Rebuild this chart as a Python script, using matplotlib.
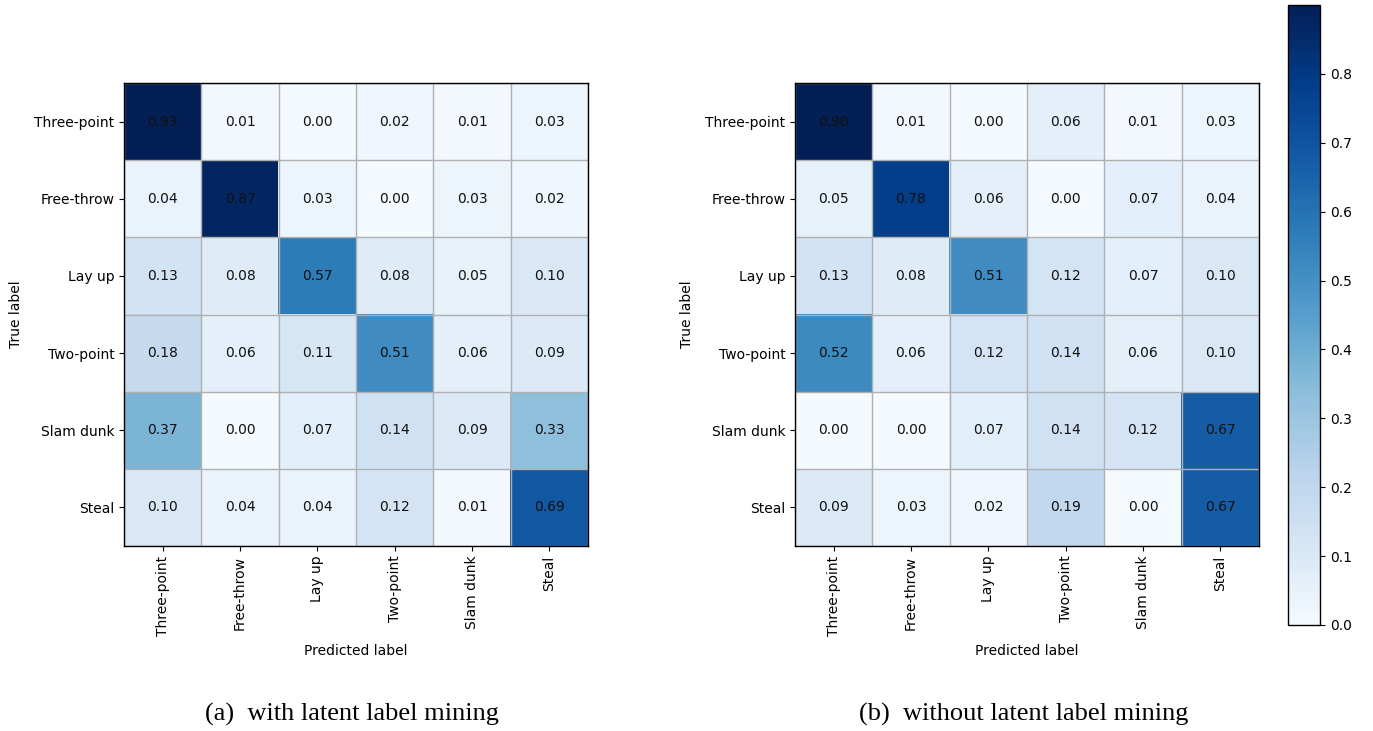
import numpy as np
import matplotlib
matplotlib.use("Agg")
import matplotlib.pyplot as plt
from matplotlib.colors import ListedColormap

classes = ["Three-point", "Free-throw", "Lay up", "Two-point", "Slam dunk", "Steal"]

cm_with = [
    [0.93, 0.01, 0.00, 0.02, 0.01, 0.03],
    [0.04, 0.87, 0.03, 0.00, 0.03, 0.02],
    [0.13, 0.08, 0.57, 0.08, 0.05, 0.10],
    [0.18, 0.06, 0.11, 0.51, 0.06, 0.09],
    [0.37, 0.00, 0.07, 0.14, 0.09, 0.33],
    [0.10, 0.04, 0.04, 0.12, 0.01, 0.69],
]

cm_without = [
    [0.90, 0.01, 0.00, 0.06, 0.01, 0.03],
    [0.05, 0.78, 0.06, 0.00, 0.07, 0.04],
    [0.13, 0.08, 0.51, 0.12, 0.07, 0.10],
    [0.52, 0.06, 0.12, 0.14, 0.06, 0.10],
    [0.00, 0.00, 0.07, 0.14, 0.12, 0.67],
    [0.09, 0.03, 0.02, 0.19, 0.00, 0.67],
]

captions = ["(a)  with latent label mining", "(b)  without latent label mining"]

# Slightly deepened "Blues" palette
base = plt.get_cmap("Blues")(np.linspace(0, 1, 256))
base[:, :3] = base[:, :3] ** 1.25
blues_deep = ListedColormap(base, name="blues_deep")

fig = plt.figure(figsize=(13.73, 7.31), dpi=100)
W, H = 1373, 731


def px_axes(x0, y0, x1, y1):
    return fig.add_axes([x0 / W, 1 - y1 / H, (x1 - x0) / W, (y1 - y0) / H])


ax_a = px_axes(124, 83, 588, 546)
ax_b = px_axes(795, 83, 1259, 546)
cax = px_axes(1288, 5, 1320, 625)

vmax = 0.9
im = None
for ax, data in ((ax_a, cm_with), (ax_b, cm_without)):
    arr = np.array(data)
    im = ax.imshow(arr, cmap=blues_deep, vmin=0, vmax=vmax, aspect="auto")
    n = len(classes)
    ax.set_xticks(range(n))
    ax.set_yticks(range(n))
    ax.set_xticklabels(classes, rotation=90, fontsize=10)
    ax.set_yticklabels(classes, fontsize=10)
    ax.set_xlabel("Predicted label", fontsize=10, labelpad=6)
    ax.set_ylabel("True label", fontsize=10, labelpad=8)
    ax.set_xticks(np.arange(-0.5, n, 1), minor=True)
    ax.set_yticks(np.arange(-0.5, n, 1), minor=True)
    ax.grid(which="minor", color="#b0b0b0", linewidth=1)
    ax.tick_params(which="minor", length=0)
    for i in range(n):
        for j in range(n):
            ax.text(j, i, f"{arr[i, j]:.2f}", ha="center", va="center",
                    fontsize=10, color="#111111")
    for s in ax.spines.values():
        s.set_linewidth(1)

cb = fig.colorbar(im, cax=cax)
cb.set_ticks(np.arange(0, 0.81, 0.1))
cb.ax.tick_params(labelsize=10)
cb.outline.set_linewidth(1)

fig.text(352 / W, 1 - 714 / H, captions[0], ha="center", va="center",
         fontsize=19, family="Liberation Serif")
fig.text(1024 / W, 1 - 714 / H, captions[1], ha="center", va="center",
         fontsize=19, family="Liberation Serif")

fig.savefig("out.png", dpi=100)
